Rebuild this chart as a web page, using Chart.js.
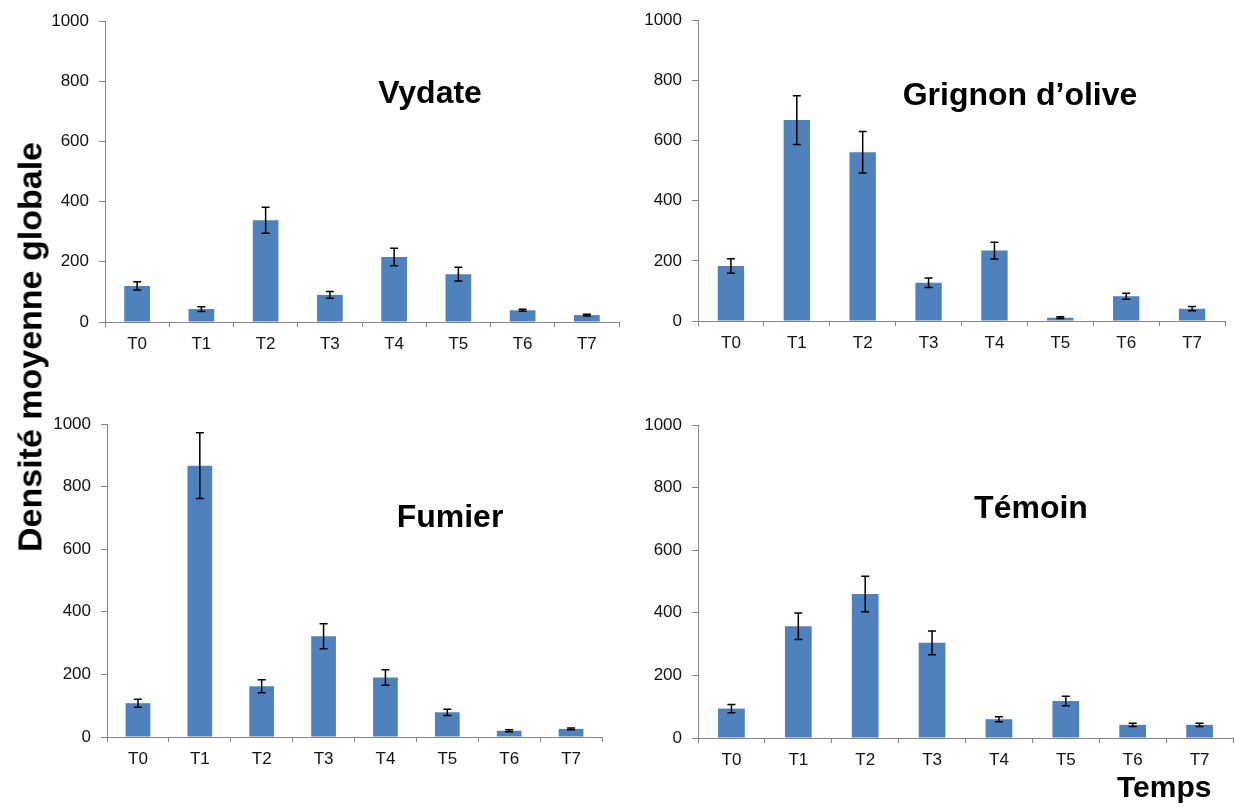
<!DOCTYPE html>
<html>
<head>
<meta charset="utf-8">
<script src="https://cdn.jsdelivr.net/npm/chart.js@4.4.0/dist/chart.umd.min.js"></script>
<style>
  body { margin: 0; background: #fff; }
  #page { position: relative; width: 1235px; height: 807px; overflow: hidden; font-family: "Liberation Sans", Arial, sans-serif; }
  canvas { position: absolute; }
  .titre { position: absolute; width: 300px; text-align: center; font-weight: bold; font-size: 32px; line-height: 32px; color: #000; white-space: nowrap; }
  #ylabel { position: absolute; left: 30px; top: 347px; font-weight: bold; font-size: 34px; white-space: nowrap; transform: translate(-50%, -50%) rotate(-90deg); }
  #xlabel { position: absolute; left: 1117px; top: 772px; font-weight: bold; font-size: 30px; line-height: 30px; white-space: nowrap; }
</style>
</head>
<body>
<div id="page">
  <canvas id="c1"></canvas>
  <canvas id="c2"></canvas>
  <canvas id="c3"></canvas>
  <canvas id="c4"></canvas>
  <div class="titre" style="left:280px; top:76px;">Vydate</div>
  <div class="titre" style="left:870px; top:78px;">Grignon d’olive</div>
  <div class="titre" style="left:300px; top:500px;">Fumier</div>
  <div class="titre" style="left:881px; top:491px;">Témoin</div>
  <div id="ylabel">Densité moyenne globale</div>
  <div id="xlabel">Temps</div>
</div>
<script>
// Données
const temps = ['T0', 'T1', 'T2', 'T3', 'T4', 'T5', 'T6', 'T7'];
const yTicks = [0, 200, 400, 600, 800, 1000];

const vydate = [120, 43, 338, 90, 216, 159, 39, 23];
const vydateErr = [14, 8, 43, 11, 29, 23, 3, 3];

const grignon = [183, 668, 561, 127, 234, 11, 82, 41];
const grignonErr = [24, 81, 69, 16, 28, 3, 10, 7];

const fumier = [108, 867, 162, 322, 190, 79, 20, 26];
const fumierErr = [13, 105, 21, 40, 25, 10, 3, 3];

const temoin = [94, 357, 460, 304, 60, 118, 42, 42];
const temoinErr = [13, 42, 57, 38, 8, 15, 5, 5];

const barColor = '#4F81BD';
const axisColor = '#868686';
const tickFont = { family: '"Liberation Sans", Arial, sans-serif', size: 17 };

// Barres d'erreur dessinées à partir des échelles du graphique
const errorBars = {
    id: 'errorBars',
    afterDatasetsDraw(chart) {
        const ctx = chart.ctx;
        const yScale = chart.scales.y;
        chart.data.datasets.forEach((ds, i) => {
            const meta = chart.getDatasetMeta(i);
            meta.data.forEach((bar, j) => {
                const v = ds.data[j];
                const e = ds.errors[j];
                const yTop = yScale.getPixelForValue(v + e);
                const yBot = yScale.getPixelForValue(v - e);
                ctx.save();
                ctx.strokeStyle = '#000';
                ctx.lineWidth = 1.5;
                ctx.beginPath();
                ctx.moveTo(bar.x, yTop);
                ctx.lineTo(bar.x, yBot);
                ctx.moveTo(bar.x - 4, yTop);
                ctx.lineTo(bar.x + 4, yTop);
                ctx.moveTo(bar.x - 4, yBot);
                ctx.lineTo(bar.x + 4, yBot);
                ctx.stroke();
                ctx.restore();
            });
        });
    }
};

// box = position du canvas sur la page, area = zone du graphique sur la page
function dessinerPanneau(id, valeurs, erreurs, box, area) {
    const canvas = document.getElementById(id);
    canvas.style.left = box.x + 'px';
    canvas.style.top = box.y + 'px';
    canvas.width = box.w;
    canvas.height = box.h;
    canvas.style.width = box.w + 'px';
    canvas.style.height = box.h + 'px';

    new Chart(canvas.getContext('2d'), {
        type: 'bar',
        data: {
            labels: temps,
            datasets: [{
                data: valeurs,
                errors: erreurs,
                backgroundColor: barColor,
                borderWidth: 0,
                barPercentage: 0.4,
                categoryPercentage: 1.0
            }]
        },
        options: {
            responsive: false,
            animation: false,
            layout: {
                padding: {
                    left: 0,
                    top: area.top - box.y,
                    right: box.x + box.w - area.right,
                    bottom: 0
                }
            },
            plugins: {
                legend: { display: false },
                tooltip: { enabled: false }
            },
            scales: {
                x: {
                    offset: true,
                    grid: { offset: true, drawOnChartArea: false, color: axisColor, tickLength: 5 },
                    border: { color: axisColor, width: 1 },
                    ticks: { color: '#111', font: tickFont, padding: 7, maxRotation: 0 },
                    afterFit(scale) { scale.height = box.y + box.h - area.bottom; }
                },
                y: {
                    min: 0,
                    max: 1000,
                    afterBuildTicks(scale) { scale.ticks = yTicks.map(v => ({ value: v })); },
                    grid: { drawOnChartArea: false, color: axisColor, tickLength: 6 },
                    border: { color: axisColor, width: 1 },
                    ticks: {
                        color: '#111',
                        font: tickFont,
                        padding: 10,
                        callback: function(value) {
                            return String(value); // sans séparateur de milliers
                        }
                    },
                    afterFit(scale) { scale.width = area.left - box.x; }
                }
            }
        },
        plugins: [errorBars]
    });
}

dessinerPanneau('c1', vydate, vydateErr,
    { x: 40, y: 0, w: 585, h: 360 }, { left: 105, top: 21, right: 619, bottom: 322 });
dessinerPanneau('c2', grignon, grignonErr,
    { x: 625, y: 0, w: 610, h: 360 }, { left: 698, top: 19, right: 1225, bottom: 321 });
dessinerPanneau('c3', fumier, fumierErr,
    { x: 40, y: 400, w: 585, h: 375 }, { left: 107, top: 424, right: 602, bottom: 737 });
dessinerPanneau('c4', temoin, temoinErr,
    { x: 625, y: 400, w: 610, h: 375 }, { left: 698, top: 425, right: 1233, bottom: 738 });
</script>
</body>
</html>
